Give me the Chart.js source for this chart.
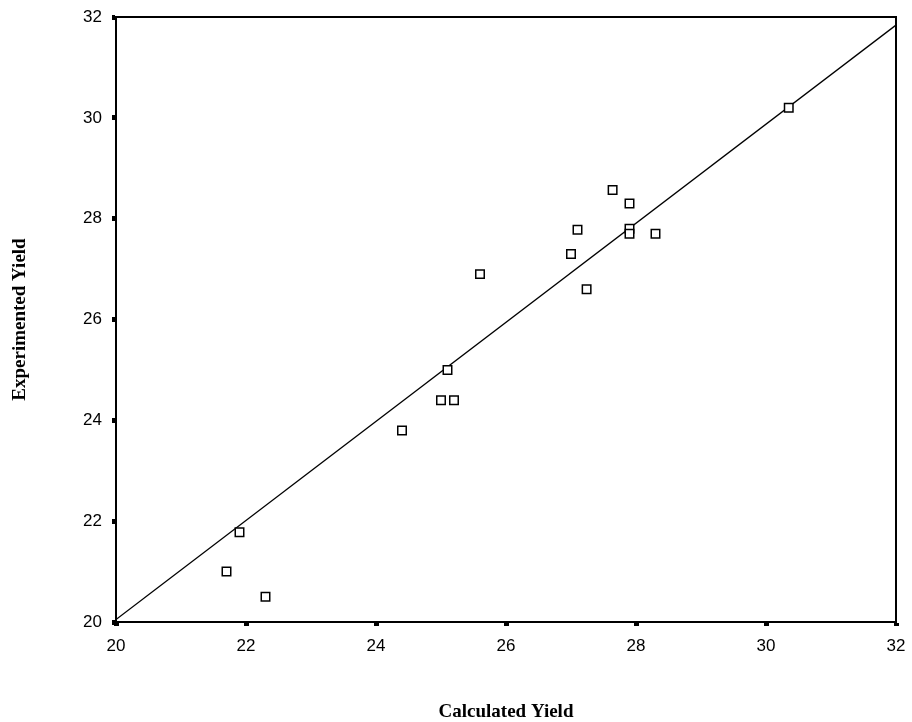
<!DOCTYPE html>
<html>
<head>
<meta charset="utf-8">
<script src="https://cdn.jsdelivr.net/npm/chart.js@4"></script>
<style>
  html, body { margin: 0; padding: 0; background: #fff; }
  #wrap { width: 912px; height: 722px; }
</style>
</head>
<body>
<div id="wrap"><canvas id="chart" width="912" height="722"></canvas></div>
<script>
// values
const calcYield = [21.7, 21.9, 22.3, 24.4, 25.0, 25.2, 25.1, 25.6, 27.0, 27.1, 27.24, 27.64, 27.9, 27.9, 27.9, 28.3, 30.35];
const expYield  = [21.0, 21.78, 20.5, 23.8, 24.4, 24.4, 25.0, 26.9, 27.3, 27.78, 26.6, 28.57, 28.3, 27.8, 27.7, 27.7, 30.2];
const fitX = [20, 32];
const fitY = [20.05, 31.84];
const axisMin = 20, axisMax = 32, axisStep = 2;

const points = calcYield.map((x, i) => ({ x: x, y: expYield[i] }));
const fitLine = fitX.map((x, i) => ({ x: x, y: fitY[i] }));

// box round the plot area
const frame = {
  id: 'frame',
  afterDraw(chart) {
    const a = chart.chartArea, ctx = chart.ctx;
    ctx.save();
    ctx.strokeStyle = '#000';
    ctx.lineWidth = 2;
    ctx.strokeRect(a.left, a.top, a.right - a.left, a.bottom - a.top);
    ctx.restore();
  }
};

const tickFont = { family: '"Liberation Sans", Arial, sans-serif', size: 17 };
const titleFont = { family: '"Liberation Serif", "Times New Roman", serif', size: 19, weight: 'bold', lineHeight: 1 };

new Chart(document.getElementById('chart').getContext('2d'), {
  type: 'scatter',
  data: {
    datasets: [
      {
        label: 'Observed',
        data: points,
        pointStyle: 'rect',
        pointRadius: 6,
        pointBorderWidth: 1.5,
        pointBorderColor: '#000',
        pointBackgroundColor: '#fff',
        order: 1
      },
      {
        type: 'line',
        label: 'Fit',
        data: fitLine,
        borderColor: '#000',
        borderWidth: 1.3,
        pointRadius: 0,
        fill: false,
        order: 2
      }
    ]
  },
  options: {
    responsive: false,
    animation: false,
    devicePixelRatio: 1,
    layout: { padding: { left: 11, right: 16, top: 17, bottom: 0 } },
    plugins: { legend: { display: false }, tooltip: { enabled: false } },
    scales: {
      x: {
        type: 'linear',
        min: axisMin, max: axisMax,
        ticks: { stepSize: axisStep, color: '#000', font: tickFont, padding: 10 },
        grid: { drawOnChartArea: false, drawTicks: true, tickLength: 4, tickWidth: 5, tickColor: '#000' },
        border: { display: true, color: '#000', width: 2 },
        title: { display: true, text: 'Calculated Yield', color: '#000', font: titleFont, padding: 0 },
        afterFit(s) { s.height = 100; s.paddingLeft = 0; s.paddingRight = 0; }
      },
      y: {
        type: 'linear',
        min: axisMin, max: axisMax,
        ticks: { stepSize: axisStep, color: '#000', font: tickFont, padding: 10 },
        grid: { drawOnChartArea: false, drawTicks: true, tickLength: 4, tickWidth: 5, tickColor: '#000' },
        border: { display: true, color: '#000', width: 2 },
        title: { display: true, text: 'Experimented Yield', color: '#000', font: titleFont, padding: 0 },
        afterFit(s) { s.width = 105; s.paddingTop = 0; s.paddingBottom = 0; }
      }
    }
  },
  plugins: [frame]
});
</script>
</body>
</html>
